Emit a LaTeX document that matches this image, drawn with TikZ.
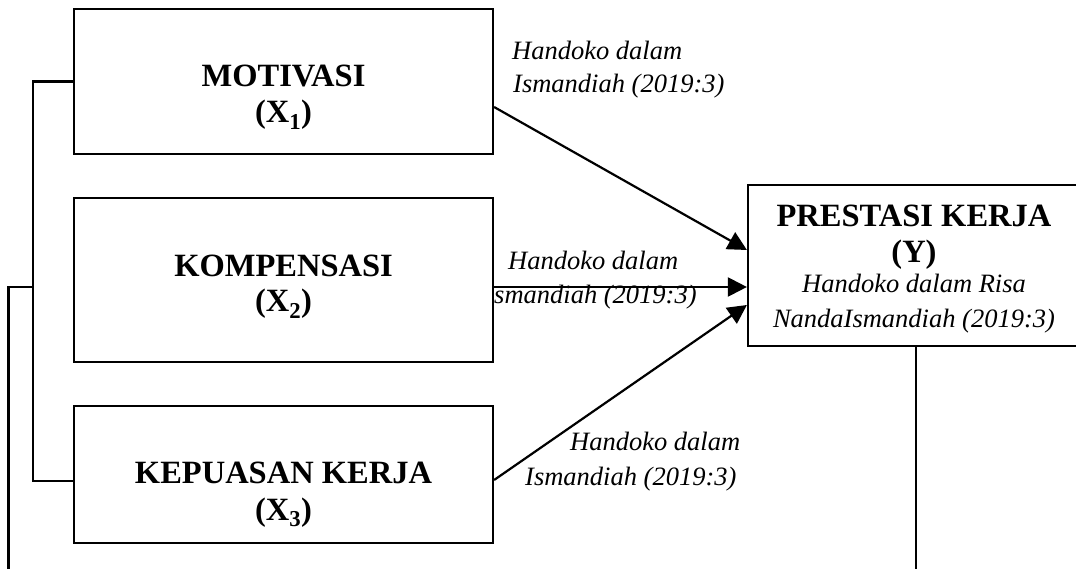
\documentclass[tikz,border=0pt]{standalone}
\usepackage{fontspec}
\setmainfont{Liberation Serif}
\usetikzlibrary{arrows.meta}
\tikzset{
  box/.style={draw, line width=2.2pt, inner sep=0pt},
  title/.style={font=\fontsize{32.5}{36}\selectfont\bfseries, anchor=base, inner sep=0pt},
  cite/.style={font=\fontsize{26.5}{31}\selectfont\itshape, inner sep=0pt},
  arr/.style={line width=2.2pt, -{Triangle[length=19pt,width=19pt]}},
  wire/.style={line width=2.2pt}
}
\begin{document}
\begin{tikzpicture}[x=1pt,y=-1pt]
\useasboundingbox (0,0) rectangle (1076,569);
\clip (0,0) rectangle (1076,569);
% boxes
\node[box, minimum width=419pt, minimum height=145pt] (X1) at (283.5,81.5) {};
\node[box, minimum width=419pt, minimum height=164pt] (X2) at (283.5,280) {};
\node[box, minimum width=419pt, minimum height=137pt] (X3) at (283.5,474.5) {};
\node[box, minimum width=332pt, minimum height=161pt] (Y) at (914,265.5) {};
% box texts
\node[title] (t1a) at (283.5,87) {MOTIVASI};
\node[title] (t1b) at (283.5,123) {(X\textsubscript{1})};
\node[title] (t2a) at (283.5,277) {KOMPENSASI};
\node[title] (t2b) at (283.5,312) {(X\textsubscript{2})};
\node[title] (t3a) at (283.5,483) {KEPUASAN KERJA};
\node[title] (t3b) at (283.5,520) {(X\textsubscript{3})};
\node[title] (tya) at (914,227) {PRESTASI KERJA};
\node[title] (tyb) at (914,263) {(Y)};
\node[cite, anchor=base] (tyc) at (914,293) {Handoko dalam Risa};
\node[cite, anchor=base] (tyd) at (914,327) {NandaIsmandiah (2019:3)};
% arrow labels
\node[cite, anchor=base west] (l1a) at (512,60) {Handoko dalam};
\node[cite, anchor=base west] (l1b) at (513,93) {Ismandiah (2019:3)};
\node[cite, anchor=base west] (l2a) at (508,270) {Handoko dalam};
\node[cite, anchor=base west] (l2b) at (494,303) {smandiah (2019:3)};
\node[cite, anchor=base west] (l3a) at (570,450) {Handoko dalam};
\node[cite, anchor=base west] (l3b) at (525,485) {Ismandiah (2019:3)};
% arrows
\draw[arr] ([yshift=-25.5pt]X1.east) -- ([yshift=15.5pt]Y.west);
\draw[arr] ([yshift=-7pt]X2.east) -- ([yshift=-21.5pt]Y.west);
\draw[arr] ([yshift=-5.5pt]X3.east) -- ([yshift=-39.5pt]Y.west);
% left bracket
\coordinate (b1) at (33,81.5);
\coordinate (b3) at (33,481);
\coordinate (bm) at (33,287);
\coordinate (o1) at (8.5,287);
\coordinate (o2) at (8.5,569);
\draw[wire] (X1.west) -- (b1) -- (b3) -- (X3.west |- b3);
\draw[wire] (bm) -- (o1) -- (o2);
% line down from Y
\coordinate (yd) at (916,569);
\draw[wire] (Y.south -| yd) -- (yd);
\end{tikzpicture}
\end{document}
